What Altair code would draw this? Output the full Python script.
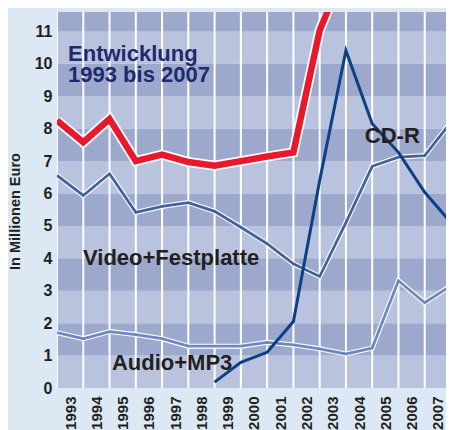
import altair as alt
import pandas as pd

# ---- data -------------------------------------------------------------
years = list(range(1993, 2009))          # year boundaries (points sit on gridlines)
label_years = list(range(1993, 2008))    # 15 axis labels, centred in each year band

red_vals = [8.25, 7.58, 8.3, 7.0, 7.2, 6.97, 6.86, 7.0, 7.14, 7.27, 11.03, 13.0]
video_vals = [6.56, 5.94, 6.61, 5.42, 5.6, 5.72, 5.45, 4.96, 4.45, 3.83, 3.44,
              5.1, 6.84, 7.12, 7.17, 8.2]
audio_vals = [1.71, 1.52, 1.74, 1.65, 1.52, 1.29, 1.29, 1.29, 1.41, 1.33, 1.21,
              1.05, 1.23, 3.31, 2.63, 3.16]
cdr_years = list(range(1999, 2009))
cdr_vals = [0.18, 0.79, 1.1, 2.05, 6.4, 10.41, 8.15, 7.27, 6.04, 5.1]

y_ticks = list(range(0, 12))

ann_text_navy = ["Entwicklung", "1993 bis 2007"]
ann_x_navy = [1993.42, 1993.42]
ann_y_navy = [10.1, 9.43]

ann_text_black = ["CD-R", "Video+Festplatte", "Audio+MP3"]
ann_x_black = [2004.72, 1993.99, 1995.09]
ann_y_black = [7.57, 3.81, 0.57]

# ---- frames -----------------------------------------------------------
red_df = pd.DataFrame({"year": years[:len(red_vals)], "value": red_vals})
video_df = pd.DataFrame({"year": years, "value": video_vals})
audio_df = pd.DataFrame({"year": years, "value": audio_vals})
cdr_df = pd.DataFrame({"year": cdr_years, "value": cdr_vals})
bands_df = pd.DataFrame({"lo": y_ticks, "hi": [t + 1 for t in y_ticks],
                         "dark": [t % 2 == 1 for t in y_ticks]})
grid_df = pd.DataFrame({"year": years})
navy_df = pd.DataFrame({"x": ann_x_navy, "y": ann_y_navy, "t": ann_text_navy})
black_df = pd.DataFrame({"x": ann_x_black, "y": ann_y_black, "t": ann_text_black})

FONT = "Liberation Sans, Arial, sans-serif"
INK = "#231f20"
W, H = 389, 376

xscale = alt.Scale(domain=[1993, 2007.81], nice=False, zero=False)
yscale = alt.Scale(domain=[0, 11.6], nice=False, zero=False)

x_axis = alt.Axis(values=[y + 0.5 for y in label_years], labelExpr="floor(datum.value)",
                  labelAngle=270, labelAlign="right", labelBaseline="middle",
                  labelFontSize=15, labelFont=FONT, labelFontWeight="bold",
                  labelColor=INK, labelPadding=8, labelOffset=0, ticks=False,
                  domain=False, grid=False, title=None, labelOverlap=False)
y_axis = alt.Axis(values=y_ticks, labelFontSize=16, labelFont=FONT,
                  labelFontWeight="bold", labelColor=INK, labelPadding=5,
                  ticks=False, domain=False, grid=False, labelOverlap=False,
                  title="In Millionen Euro", titleFont=FONT, titleFontSize=14.5,
                  titleFontWeight="bold", titleColor=INK, titleAngle=270,
                  titleX=-42, titleY=199, titleAlign="center", titleBaseline="middle")


def X(field):
    return alt.X(field, scale=xscale, axis=x_axis)


def Y(field):
    return alt.Y(field, scale=yscale, axis=y_axis)


bands = alt.Chart(bands_df).mark_rect(clip=True).encode(
    x=alt.value(0), x2=alt.value(W),
    y=Y("lo:Q"), y2="hi:Q",
    color=alt.Color("dark:N", scale=alt.Scale(domain=[True, False],
                                               range=["#9ca9cc", "#bac3de"]), legend=None),
)

grid = alt.Chart(grid_df).mark_rule(color="white", strokeWidth=2, clip=True).encode(
    x=X("year:Q"))


def line(df, color, width, halo=None):
    layers = []
    if halo:
        layers.append(alt.Chart(df).mark_line(color="white", strokeWidth=halo, clip=True,
                                              strokeJoin="miter").encode(
            x=X("year:Q"), y=Y("value:Q")))
    layers.append(alt.Chart(df).mark_line(color=color, strokeWidth=width, clip=True,
                                          strokeJoin="miter").encode(
        x=X("year:Q"), y=Y("value:Q")))
    return layers


navy_txt = alt.Chart(navy_df).mark_text(align="left", baseline="alphabetic", font=FONT,
                                        fontWeight="bold", fontSize=22,
                                        color="#1f2a6e").encode(
    x=X("x:Q"), y=Y("y:Q"), text="t:N")
black_txt = alt.Chart(black_df).mark_text(align="left", baseline="alphabetic", font=FONT,
                                          fontWeight="bold", fontSize=22,
                                          color=INK).encode(
    x=X("x:Q"), y=Y("y:Q"), text="t:N")

chart = alt.layer(
    bands, grid,
    *line(audio_df, "#6d87c0", 2.8, 5),
    *line(video_df, "#41619f", 2.8, 5),
    *line(cdr_df, "#0d3f85", 3),
    *line(red_df, "#e8192c", 6.5, 10),
    navy_txt, black_txt,
).properties(
    width=W, height=H,
    autosize=alt.AutoSizeParams(type="none"),
    padding={"left": 49, "top": 4, "right": 0, "bottom": 42},
    background="#dce9f5",
).configure_view(strokeWidth=0)

chart.save("out.html", embed_options={"renderer": "svg", "actions": False})
